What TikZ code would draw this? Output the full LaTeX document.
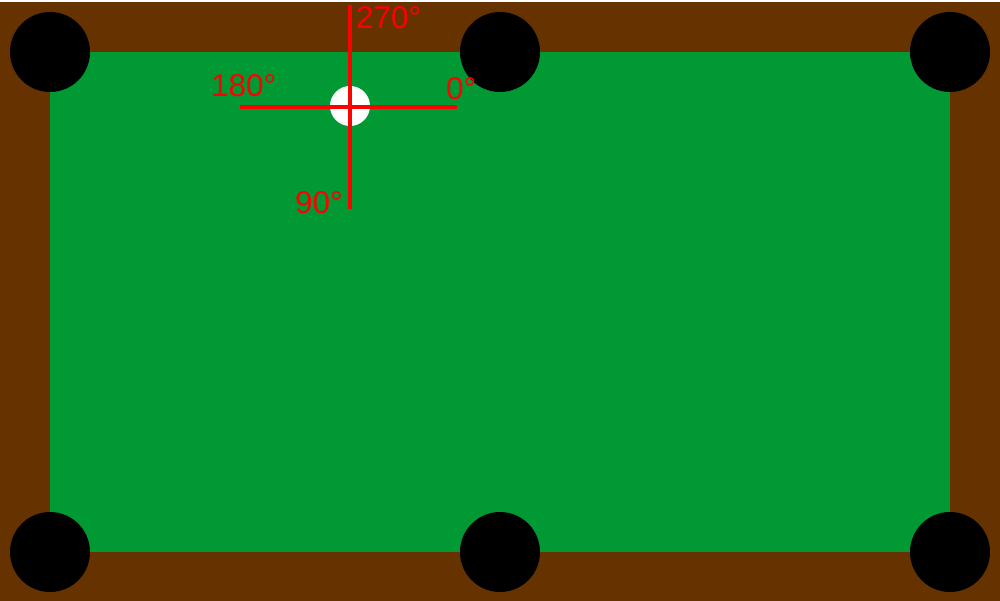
\documentclass[tikz,border=0pt]{standalone}
\usepackage{fontspec}
\setmainfont{Liberation Sans}
\definecolor{rail}{HTML}{663300}
\definecolor{felt}{HTML}{009933}
\definecolor{axis}{HTML}{FF0000}
\begin{document}
\begin{tikzpicture}[x=1pt,y=-1pt,
  pocket/.style={circle,fill=black,inner sep=0pt,minimum size=80pt},
  axisline/.style={draw=axis,line width=3.8pt},
  lbl/.style={text=axis,font=\fontsize{31.5}{31.5}\selectfont,anchor=base west,inner sep=0pt}]
\useasboundingbox (0,0) rectangle (1000,601);
\fill[white] (0,0) rectangle (1000,601);
\fill[rail] (0,2) rectangle (1000,601);
\fill[felt] (50,52) rectangle (950,552);
\node[pocket] (p1) at (50,52) {};
\node[pocket] (p2) at (500,52) {};
\node[pocket] (p3) at (950,52) {};
\node[pocket] (p4) at (50,552) {};
\node[pocket] (p5) at (500,552) {};
\node[pocket] (p6) at (950,552) {};
\node[circle,fill=white,inner sep=0pt,minimum size=40pt] (ball) at (350,106) {};
\coordinate (left) at (240,107);
\coordinate (right) at (457,107);
\coordinate (top) at (350,5);
\coordinate (bottom) at (350,209);
\draw[axisline] (left) -- (right);
\draw[axisline] (top) -- (bottom);
\node[lbl] (t270) at (356,29) {270°};
\node[lbl] (t180) at (211,97) {180°};
\node[lbl] (t0) at (446,100) {0°};
\node[lbl] (t90) at (295,214) {90°};
\end{tikzpicture}
\end{document}
